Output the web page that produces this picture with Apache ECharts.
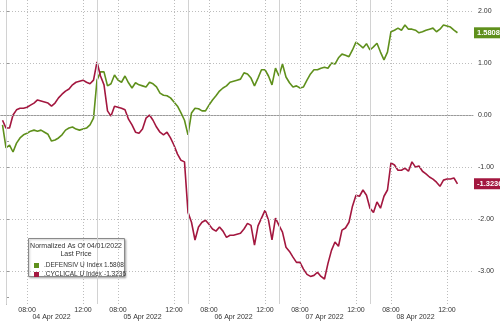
<!DOCTYPE html>
<html><head><meta charset="utf-8">
<script src="https://cdn.jsdelivr.net/npm/echarts@6/dist/echarts.min.js"></script>
<style>html,body{margin:0;padding:0;background:#fff}#c{width:500px;height:321px}</style>
</head><body><div id="c"></div>
<script>
// ---- data: 15-minute samples of trading time (x unit = quarter hours since 04 Apr 06:30 PT) ----
const firstStep = -1;
const stepsPerDay = 26;            // 06:30 - 13:00
const dayLabels = ['04 Apr 2022', '05 Apr 2022', '06 Apr 2022', '07 Apr 2022', '08 Apr 2022'];
const timeTickSteps = [6, 22];     // 08:00 and 12:00
const timeTickLabels = ['08:00', '12:00'];
const yTicks = [2, 1, 0, -1, -2, -3];
const yMinorTicks = [-0.5, -3.5];
const defensivName = '.DEFENSIV U Index';
const cyclicalName = '.CYCLICAL U Index';
const defensiv = [
  -0.19, -0.63, -0.58, -0.71, -0.54, -0.44, -0.38, -0.35, -0.31, -0.29, -0.31, -0.29, -0.33, -0.37,
  -0.50, -0.48, -0.44, -0.38, -0.29, -0.25, -0.23, -0.27, -0.29, -0.27, -0.25, -0.19, -0.06,
  0.67, 0.83, 0.83, 0.56, 0.60, 0.77, 0.67, 0.63, 0.75, 0.62, 0.52, 0.62, 0.58, 0.56, 0.54, 0.63,
  0.60, 0.54, 0.42, 0.38, 0.37, 0.33, 0.25, 0.17, 0.04, -0.10,
  -0.38, 0.04, 0.13, 0.12, 0.08, 0.08, 0.19, 0.29, 0.37, 0.46, 0.52, 0.56, 0.63, 0.65, 0.67, 0.69,
  0.81, 0.79, 0.71, 0.56, 0.71, 0.87, 0.87, 0.75, 0.58, 0.90, 0.75,
  0.98, 0.73, 0.62, 0.54, 0.56, 0.52, 0.54, 0.67, 0.79, 0.87, 0.87, 0.90, 0.92, 0.90, 1.00, 0.98,
  1.10, 1.17, 1.15, 1.12, 1.25, 1.40, 1.35, 1.29, 1.37,
  1.25, 1.31, 1.38, 1.21, 1.06, 1.21, 1.60, 1.63, 1.67, 1.63, 1.73, 1.65, 1.65, 1.63, 1.58, 1.60,
  1.63, 1.65, 1.67, 1.60, 1.65, 1.73, 1.71, 1.69, 1.63, 1.5808
];
const cyclical = [
  -0.10, -0.25, -0.25, 0.00, 0.10, 0.13, 0.13, 0.15, 0.19, 0.23, 0.29, 0.27, 0.25, 0.23,
  0.17, 0.23, 0.33, 0.40, 0.46, 0.50, 0.58, 0.63, 0.65, 0.67, 0.63, 0.60, 0.67,
  1.02, 0.75, 0.58, 0.08, -0.02, 0.17, 0.15, 0.13, 0.10, -0.08, -0.19, -0.33, -0.35, -0.27, -0.06, 0.00,
  -0.10, -0.23, -0.33, -0.38, -0.33, -0.44, -0.58, -0.75, -0.87, -0.90,
  -1.87, -2.06, -2.40, -2.15, -2.06, -2.02, -2.10, -2.19, -2.23, -2.15, -2.23, -2.35, -2.31, -2.31, -2.29, -2.27,
  -2.19, -2.08, -2.12, -2.50, -2.13, -1.98, -1.83, -2.02, -2.40, -1.98, -2.12,
  -2.25, -2.54, -2.62, -2.73, -2.83, -2.83, -2.96, -3.06, -3.10, -3.08, -3.02, -3.10, -3.15, -2.85, -2.60, -2.44,
  -2.52, -2.21, -2.17, -2.06, -1.75, -1.54, -1.56, -1.44, -1.54,
  -1.79, -1.87, -1.67, -1.79, -1.56, -1.44, -0.92, -0.96, -1.06, -1.06, -1.02, -1.08, -0.90, -1.00, -0.98, -1.08,
  -1.13, -1.19, -1.23, -1.29, -1.37, -1.25, -1.23, -1.23, -1.21, -1.3236
];

// ---- styling / layout ----
const GREEN = '#5f901c';
const RED = '#a3173f';
const FONT = '"Liberation Sans", Arial, sans-serif';
const X_MIN = -1.72, X_MAX = 133.44;
const Y_MIN = -3.63, Y_MAX = 2.21;
const DOT = { color: '#bdbdbd', type: [1, 2], width: 1 };
const SOLID = { color: '#d2d2d2', type: 'solid', width: 1 };

const toPairs = arr => arr.map((v, i) => [firstStep + i, v]);
const hourTicks = [];
dayLabels.forEach((_, d) => timeTickSteps.forEach(s => hourTicks.push(d * stepsPerDay + s)));
const dayBounds = dayLabels.map((_, d) => d * stepsPerDay);
const dayCenters = dayLabels.map((_, d) => d * stepsPerDay + stepsPerDay / 2);
const lastDef = defensiv[defensiv.length - 1];
const lastCyc = cyclical[cyclical.length - 1];

function hourLabel(t) {
  const s = Math.round(((t % stepsPerDay) + stepsPerDay) % stepsPerDay);
  const i = timeTickSteps.indexOf(s);
  return i >= 0 ? timeTickLabels[i] : '';
}
function dayLabel(t) { return dayLabels[Math.floor(t / stepsPerDay)] || ''; }

function endMark(value, color) {
  return {
    silent: true, symbol: 'none', animation: false,
    lineStyle: { color: 'rgba(0,0,0,0)', width: 0 },
    label: {
      show: true, position: 'end', distance: 1,
      formatter: () => value.toFixed(4),
      backgroundColor: color, color: '#fff', fontSize: 7.5, fontWeight: 'bold',
      fontFamily: FONT, padding: [2, 3, 1, 3]
    },
    emphasis: { disabled: true },
    data: [{ yAxis: value }]
  };
}

const chart = echarts.init(document.getElementById('c'), null, { renderer: 'canvas' });
chart.setOption({
  animation: false,
  backgroundColor: '#fff',
  textStyle: { fontFamily: FONT },
  grid: { left: 0, right: 27, top: 0, bottom: 17, containLabel: false, outerBoundsMode: 'none' },
  xAxis: [
    {
      type: 'value', min: X_MIN, max: X_MAX, position: 'bottom',
      axisLine: { show: true, lineStyle: { color: '#9a9a9a', width: 1 } },
      axisTick: { show: true, interval: 0, customValues: dayBounds, length: 18, lineStyle: { color: '#a8a8a8', width: 1 } },
      splitLine: { show: false },
      axisLabel: { customValues: hourTicks, interval: 0, formatter: hourLabel, fontSize: 7, color: '#333', margin: 3, fontFamily: FONT }
    },
    {
      type: 'value', min: X_MIN, max: X_MAX, position: 'bottom',
      axisLine: { show: false },
      axisTick: { show: false },
      splitLine: { show: false },
      axisLabel: { customValues: dayCenters, formatter: dayLabel, fontSize: 7, color: '#333', margin: 10, fontFamily: FONT }
    }
  ],
  yAxis: [
    {
      type: 'value', min: Y_MIN, max: Y_MAX, position: 'right',
      axisLine: { show: true, lineStyle: { color: '#9a9a9a', width: 1 } },
      axisTick: { show: true, customValues: yTicks, length: 3, lineStyle: { color: '#9a9a9a' } },
      splitLine: { show: false },
      axisLabel: { customValues: yTicks, formatter: v => v.toFixed(2), fontSize: 7, color: '#333', margin: 5, fontFamily: FONT }
    },
    {
      type: 'value', min: Y_MIN, max: Y_MAX, position: 'right',
      axisLine: { show: true, lineStyle: { color: '#9a9a9a', width: 1 } },
      axisTick: { show: true, customValues: yMinorTicks, length: 3, lineStyle: { color: '#9a9a9a' } },
      splitLine: { show: false },
      axisLabel: { show: false }
    }
  ],
  legend: {
    left: 29, top: 257, orient: 'vertical', z: 10,
    icon: 'rect', itemWidth: 5, itemHeight: 5, itemGap: 2,
    data: [defensivName, cyclicalName],
    textStyle: {
      fontSize: 6.5, color: '#333', fontFamily: FONT,
      rich: { n: { width: 60, fontSize: 6.5, color: '#333', fontFamily: FONT }, v: { fontSize: 6.5, color: '#333', fontFamily: FONT } }
    },
    formatter: name => '{n|' + name + '}{v|' + (name === defensivName ? lastDef : lastCyc).toFixed(4) + '}'
  },
  graphic: [
    { type: 'rect', z: 5, shape: { x: 28.5, y: 238.5, width: 96, height: 38 },
      style: { fill: '#fff', stroke: '#8a8a8a', lineWidth: 1, shadowBlur: 2, shadowColor: 'rgba(0,0,0,0.25)', shadowOffsetX: 1, shadowOffsetY: 1 } },
    { type: 'text', z: 6, x: 76, y: 246, style: { text: 'Normalized As Of 04/01/2022', fill: '#333', font: '7px ' + FONT, align: 'center', verticalAlign: 'middle' } },
    { type: 'text', z: 6, x: 76, y: 254, style: { text: 'Last Price', fill: '#333', font: '7px ' + FONT, align: 'center', verticalAlign: 'middle' } }
  ],
  series: [
    {
      name: 'hourGrid', type: 'line', data: [], z: 1, silent: true,
      markLine: { silent: true, symbol: 'none', animation: false, label: { show: false }, emphasis: { disabled: true },
        lineStyle: DOT, data: hourTicks.map(t => ({ xAxis: t })) }
    },
    {
      name: 'dayGrid', type: 'line', data: [], z: 1, silent: true,
      markLine: { silent: true, symbol: 'none', animation: false, label: { show: false }, emphasis: { disabled: true },
        lineStyle: SOLID, data: dayBounds.map(t => ({ xAxis: t })) }
    },
    {
      name: 'valueGrid', type: 'line', data: [], z: 1, silent: true,
      markLine: { silent: true, symbol: 'none', animation: false, label: { show: false }, emphasis: { disabled: true },
        lineStyle: DOT, data: yTicks.map(v => ({ yAxis: v })) }
    },
    {
      name: defensivName, type: 'line', data: toPairs(defensiv), showSymbol: false, symbol: 'none',
      lineStyle: { color: GREEN, width: 1.6 }, itemStyle: { color: GREEN }, z: 3,
      markLine: endMark(lastDef, GREEN)
    },
    {
      name: cyclicalName, type: 'line', data: toPairs(cyclical), showSymbol: false, symbol: 'none',
      lineStyle: { color: RED, width: 1.6 }, itemStyle: { color: RED }, z: 3,
      markLine: endMark(lastCyc, RED)
    }
  ]
});
</script>
</body></html>
